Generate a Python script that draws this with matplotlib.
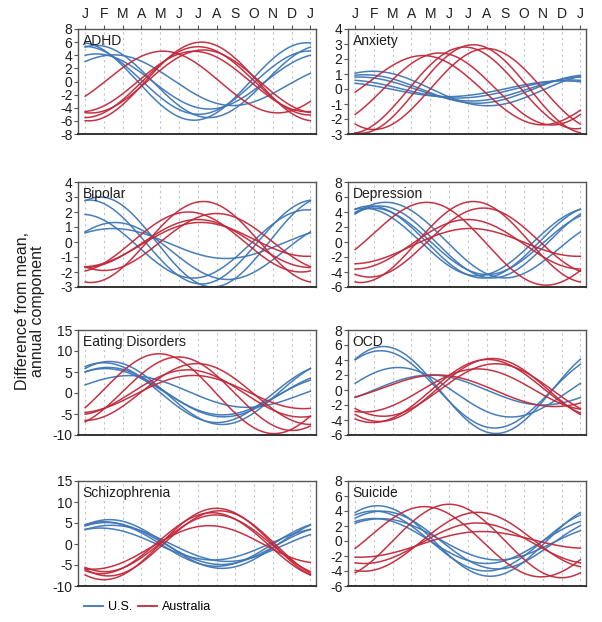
import numpy as np
import matplotlib.pyplot as plt
from matplotlib.lines import Line2D

plt.rcParams['font.family'] = ['Liberation Sans', 'DejaVu Sans']

# month labels along the top (J of this year .. J of next year)
months = ["J", "F", "M", "A", "M", "J", "J", "A", "S", "O", "N", "D", "J"]

# each curve: (amplitude, peak month [0=Jan], mean offset, drift over the year)
adhd_us = [(5.9, 11.8, 0, 0), (5.5, 0.6, 0, 0), (5.0, 0.0, 0, -0.7), (4.2, 0.6, 0, 0), (3.4, 1.7, 0, -1.8)]
adhd_au = [(4.5, 4.2, 0, -0.8), (6.0, 6.2, 0, 0), (5.3, 6.0, 0, 0.4), (4.8, 6.3, 0, 0), (4.6, 5.8, 0, 0)]

anxiety_us = [(1.1, 1.0, 0, -0.2), (0.95, 0.5, 0, 0), (0.8, 0.2, 0, 0), (0.6, 11.5, 0, 0), (0.5, 11.0, 0, 0.1)]
anxiety_au = [(2.0, 3.8, 0, -1.2), (2.4, 4.5, 0, 0), (2.8, 5.8, 0, 0.3), (2.95, 6.3, 0, 0), (2.7, 7.0, 0, 0)]

bipolar_us = [(3.0, 0.8, 0, 0), (2.8, 0.2, 0, 0), (2.2, 11.8, -0.2, 0.3), (1.9, 1.6, -0.6, 0), (1.0, 1.5, -0.1, 0)]
bipolar_au = [(2.7, 6.3, 0, 0), (2.0, 5.5, 0, 0), (1.9, 7.0, 0, 0), (1.6, 6.0, -0.1, 0), (1.3, 6.0, 0, 0.7)]

depression_us = [(4.8, 0.8, 0, 0), (4.8, 1.3, 0, 0), (4.5, 0.5, 0, 0), (4.3, 1.0, 0, -0.5), (4.4, 1.8, 0, -2.5)]
depression_au = [(4.8, 4.0, 0, -2.8), (5.4, 6.3, 0, 0), (4.5, 6.8, 0, 0.4), (3.3, 6.0, -0.3, 0), (2.1, 6.0, -0.3, 1.0)]

eating_us = [(7.5, 1.3, 0, 0), (7.0, 1.0, 0, -0.5), (5.5, 1.3, 0, -1.5), (5.0, 1.2, 0, -2.0), (3.4, 2.5, 0.3, -1.5)]
eating_au = [(9.0, 4.0, 0, -2.0), (8.5, 5.0, 0, -1.0), (7.0, 6.0, 0, -1.0), (5.5, 5.5, 0, -0.5), (4.2, 5.7, 0, 1.0)]

ocd_us = [(5.8, 1.5, 0, 0), (5.0, 1.4, 0, -0.6), (3.3, 2.3, -0.3, 0), (2.0, 4.0, 0, 0)]
ocd_au = [(4.2, 7.3, 0, 0), (4.0, 7.0, 0, 0.8), (3.5, 7.5, 0, 0), (2.8, 6.5, 0, 0.3), (1.9, 4.5, 0, -0.8)]

schizo_us = [(5.8, 1.3, 0, 0), (5.3, 1.0, 0, 0), (4.8, 1.2, 0, -0.8), (4.0, 1.5, 0, -1.2), (3.8, 0.8, 0, 0)]
schizo_au = [(8.5, 7.0, 0, 0), (8.0, 7.2, 0, -1.0), (7.5, 6.8, 0, -1.0), (7.0, 7.0, 0, -1.0), (4.8, 6.5, -0.5, 1.5)]

suicide_us = [(4.7, 1.2, 0, 0), (4.0, 1.0, 0, 0), (3.6, 1.5, 0, -1.0), (3.0, 1.0, 0, 0), (2.5, 1.5, 0.1, -1.0)]
suicide_au = [(4.3, 3.8, 0, -1.5), (4.9, 5.0, 0, 0), (3.8, 6.5, 0, 0.5), (2.7, 6.5, -0.3, 0), (1.4, 6.5, -0.2, 1.2)]

panels = [
    ("ADHD", adhd_us, adhd_au, np.arange(-8, 9, 2)),
    ("Anxiety", anxiety_us, anxiety_au, np.arange(-3, 5, 1)),
    ("Bipolar", bipolar_us, bipolar_au, np.arange(-3, 5, 1)),
    ("Depression", depression_us, depression_au, np.arange(-6, 9, 2)),
    ("Eating Disorders", eating_us, eating_au, np.arange(-10, 16, 5)),
    ("OCD", ocd_us, ocd_au, np.arange(-6, 9, 2)),
    ("Schizophrenia", schizo_us, schizo_au, np.arange(-10, 16, 5)),
    ("Suicide", suicide_us, suicide_au, np.arange(-6, 9, 2)),
]

us_color = "#3d76b6"
au_color = "#c1283a"
frame_color = "#555555"
text_color = "#1e1e1e"

W, H = 602, 622
fig = plt.figure(figsize=(W / 100, H / 100), dpi=100)

col_left = [78, 348]
col_width = 238
row_top = [29, 182, 330, 481]
row_height = 105

t = np.linspace(0, 12, 241)


def annual(amp, peak, offset, drift):
    return offset + amp * np.cos(2 * np.pi * (t - peak) / 12) + drift * (t / 12 - 0.5)


for i, (name, us, au, yticks) in enumerate(panels):
    r, c = divmod(i, 2)
    ax = fig.add_axes([col_left[c] / W, 1 - (row_top[r] + row_height) / H,
                       col_width / W, row_height / H])
    for m in range(13):
        ax.axvline(m, color="#c4c4c4", lw=0.8, ls=(0, (2, 3)), zorder=0)
    for p in us:
        ax.plot(t, annual(*p), color=us_color, lw=1.1, alpha=0.95)
    for p in au:
        ax.plot(t, annual(*p), color=au_color, lw=1.1, alpha=0.95)
    ax.set_xlim(-0.38, 12.3)
    ax.set_ylim(yticks[0], yticks[-1])
    ax.set_yticks(yticks)
    ax.set_yticklabels([str(v) for v in yticks])
    ax.tick_params(axis="y", direction="out", length=3, width=0.8, color=frame_color,
                   labelsize=10, pad=1, labelcolor=text_color)
    if r == 0:
        ax.xaxis.tick_top()
        ax.set_xticks(range(13))
        ax.set_xticklabels(months)
        ax.tick_params(axis="x", direction="out", length=3, width=0.8, color=frame_color,
                       labelsize=10, pad=3, labelcolor=text_color)
    else:
        ax.set_xticks([])
    for s in ax.spines.values():
        s.set_color(frame_color)
        s.set_linewidth(1.0)
    ax.spines["bottom"].set_linewidth(1.4)
    ax.spines["bottom"].set_color("#333333")
    ax.text(0.02, 0.95, name, transform=ax.transAxes, ha="left", va="top",
            fontsize=10, color=text_color)

fig.text(30 / W, 0.5, "Difference from mean,\nannual component", rotation=90,
         ha="center", va="center", fontsize=11.5, color=text_color, linespacing=1.0)

handles = [Line2D([], [], color=us_color, lw=1.3), Line2D([], [], color=au_color, lw=1.3)]
fig.legend(handles, ["U.S.", "Australia"], loc="center left", bbox_to_anchor=(84 / W, 1 - 607 / H),
           ncol=2, frameon=False, fontsize=9, handlelength=1.5, handletextpad=0.4,
           columnspacing=0.5, borderaxespad=0, borderpad=0)

fig.savefig("out.png", dpi=100)
